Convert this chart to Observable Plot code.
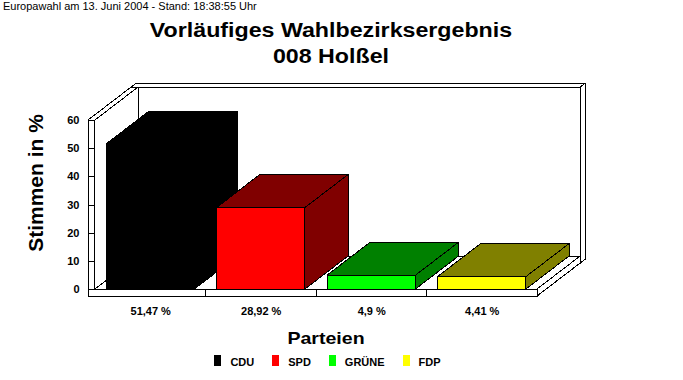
<!DOCTYPE html>
<html><head><meta charset="utf-8">
<script src="https://cdn.jsdelivr.net/npm/d3@7"></script>
<script src="https://cdn.jsdelivr.net/npm/@observablehq/plot@0.6"></script>
<style>
body{margin:0;background:#fff;}
#wrap{position:relative;width:683px;height:380px;overflow:hidden;font-family:'Liberation Sans',Arial,sans-serif;color:#000;background:#fff;}
#wrap svg{position:absolute;left:0;top:0;}
#wrap svg path,#wrap svg rect,#wrap svg line{shape-rendering:crispEdges;}
.ov{position:absolute;z-index:2;white-space:nowrap;}
#hdr{left:3px;top:1px;font-size:11px;line-height:11px;}
#title{left:0;width:662px;top:17px;text-align:center;font-weight:bold;font-size:20px;line-height:26px;transform:scaleX(1.16);}
#ylab{left:35px;top:183px;font-weight:bold;font-size:21px;line-height:21px;transform:translate(-50%,-50%) rotate(-90deg);}
#xlab{left:0;width:652px;top:330px;text-align:center;font-weight:bold;font-size:17px;line-height:17px;transform:scaleX(1.15);}
#legend{left:0;width:655px;top:355px;display:flex;justify-content:center;gap:18px;font-weight:bold;font-size:11px;line-height:11px;}
.item{display:flex;align-items:flex-end;}
.sw{width:7px;height:11px;margin-right:9px;margin-bottom:2px;}
</style>
</head><body>
<div id="wrap">
  <div id="hdr" class="ov">Europawahl am 13. Juni 2004 - Stand: 18:38:55 Uhr</div>
  <div id="title" class="ov">Vorläufiges Wahlbezirksergebnis<br>008 Holßel</div>
  <div id="ylab" class="ov">Stimmen in %</div>
  <div id="xlab" class="ov">Parteien</div>
  <div id="legend" class="ov"></div>
</div>
<script>
// ---- data ----
const parties = ["CDU", "SPD", "GRÜNE", "FDP"];
const values = [51.47, 28.92, 4.9, 4.41];
const valueLabels = ["51,47 %", "28,92 %", "4,9 %", "4,41 %"];
const frontColors = ["#000000", "#ff0000", "#00ff00", "#ffff00"];
const shadeColors = ["#000000", "#800000", "#008000", "#808000"];
const yTicks = [0, 10, 20, 30, 40, 50, 60];

// ---- 3D geometry in data units ----
const Y_MAX = 60;
const DEPTH_X = 0.39, DEPTH_Y = 11.7;
const BACK_T = 0.12;
const WALL_X = 0.063, FLOOR_Y = 2.5;
const BAR_HALF = 0.4;

const L = -0.5, L0 = L - WALL_X, R = parties.length - 0.5, T = Y_MAX, B = 0, B0 = -FLOOR_Y;
const dX = DEPTH_X, dY = DEPTH_Y, eX = DEPTH_X * (1 + BACK_T), eY = DEPTH_Y * (1 + BACK_T);

const bars = parties.map((p, i) => ({party: p, i, value: values[i], front: frontColors[i], shade: shadeColors[i], label: valueLabels[i]}));
const topPts = bars.flatMap(b => [
  {party: b.party, shade: b.shade, y: b.value, x1: b.i - BAR_HALF, x2: b.i + BAR_HALF},
  {party: b.party, shade: b.shade, y: b.value + dY, x1: b.i - BAR_HALF + dX, x2: b.i + BAR_HALF + dX}
]);
const sidePts = bars.flatMap(b => [
  {party: b.party, shade: b.shade, x: b.i + BAR_HALF, y1: 0, y2: b.value},
  {party: b.party, shade: b.shade, x: b.i + BAR_HALF + dX, y1: dY, y2: b.value + dY}
]);

const W = {fill: "white", stroke: "black", strokeWidth: 1};
const backFront = [{x1: L0 + dX, x2: R + dX, y1: B0 + dY, y2: T + dY}];
const backTop = [{y: T + dY, x1: L0 + dX, x2: R + dX}, {y: T + eY, x1: L0 + eX, x2: R + eX}];
const backRight = [{x: R + dX, y1: B0 + dY, y2: T + dY}, {x: R + eX, y1: B0 + eY, y2: T + eY}];
const floorTop = [{y: B, x1: L0, x2: R}, {y: B + dY, x1: L0 + dX, x2: R + dX}];
const floorFront = [{x1: L0, x2: R, y1: B0, y2: B}];
const floorRight = [{x: R, y1: B0, y2: B}, {x: R + dX, y1: B0 + dY, y2: B + dY}];
const wallInner = [{x: L, y1: B, y2: T}, {x: L + dX, y1: B + dY, y2: T + dY}];
const wallTop = [{y: T, x1: L0, x2: L}, {y: T + dY, x1: L0 + dX, x2: L + dX}];
const wallFront = [{x1: L0, x2: L, y1: B, y2: T}];

const chart = Plot.plot({
  width: 683, height: 380,
  marginLeft: 88, marginRight: 146, marginTop: 120, marginBottom: 91,
  x: {domain: [L0, R], axis: null},
  y: {domain: [0, Y_MAX], axis: null},
  color: {type: "identity"},
  style: {fontFamily: "'Liberation Sans', Arial, sans-serif", background: "white", color: "black"},
  marks: [
    Plot.rect(backFront, {x1: "x1", x2: "x2", y1: "y1", y2: "y2", ...W}),
    Plot.areaX(backTop, {y: "y", x1: "x1", x2: "x2", ...W}),
    Plot.areaY(backRight, {x: "x", y1: "y1", y2: "y2", ...W}),
    Plot.areaX(floorTop, {y: "y", x1: "x1", x2: "x2", ...W}),
    Plot.rect(floorFront, {x1: "x1", x2: "x2", y1: "y1", y2: "y2", ...W}),
    Plot.areaY(floorRight, {x: "x", y1: "y1", y2: "y2", ...W}),
    Plot.ruleX(bars.slice(0, -1), {x: d => d.i + 0.5, y1: () => B0, y2: () => B, stroke: "black"}),
    Plot.areaY(wallInner, {x: "x", y1: "y1", y2: "y2", ...W}),
    Plot.areaX(wallTop, {y: "y", x1: "x1", x2: "x2", ...W}),
    Plot.rect(wallFront, {x1: "x1", x2: "x2", y1: "y1", y2: "y2", ...W}),
    Plot.ruleY(yTicks, {y: d => d, x1: () => L0, x2: () => L, stroke: "black"}),
    // bars
    Plot.areaY(sidePts, {x: "x", y1: "y1", y2: "y2", z: "party", fill: "shade", stroke: "black"}),
    Plot.areaX(topPts, {y: "y", x1: "x1", x2: "x2", z: "party", fill: "shade", stroke: "black"}),
    Plot.rect(bars, {x1: d => d.i - BAR_HALF, x2: d => d.i + BAR_HALF, y1: () => 0, y2: "value", fill: "front", stroke: "black"}),
    // labels
    Plot.text(yTicks, {x: () => L0, y: d => d, text: d => String(d), textAnchor: "end", dx: -9, fontWeight: "bold", fontSize: 11}),
    Plot.text(bars, {x: "i", y: () => 0, text: "label", dy: 22, fontWeight: "bold", fontSize: 11})
  ]
});
const wrap = document.getElementById("wrap");
wrap.insertBefore(chart, wrap.firstChild);

// legend
const legend = document.getElementById("legend");
parties.forEach((p, i) => {
  const item = document.createElement("div");
  item.className = "item";
  const sw = document.createElement("div");
  sw.className = "sw";
  sw.style.background = frontColors[i];
  const t = document.createElement("span");
  t.textContent = p;
  item.appendChild(sw); item.appendChild(t);
  legend.appendChild(item);
});
</script>
</body></html>
